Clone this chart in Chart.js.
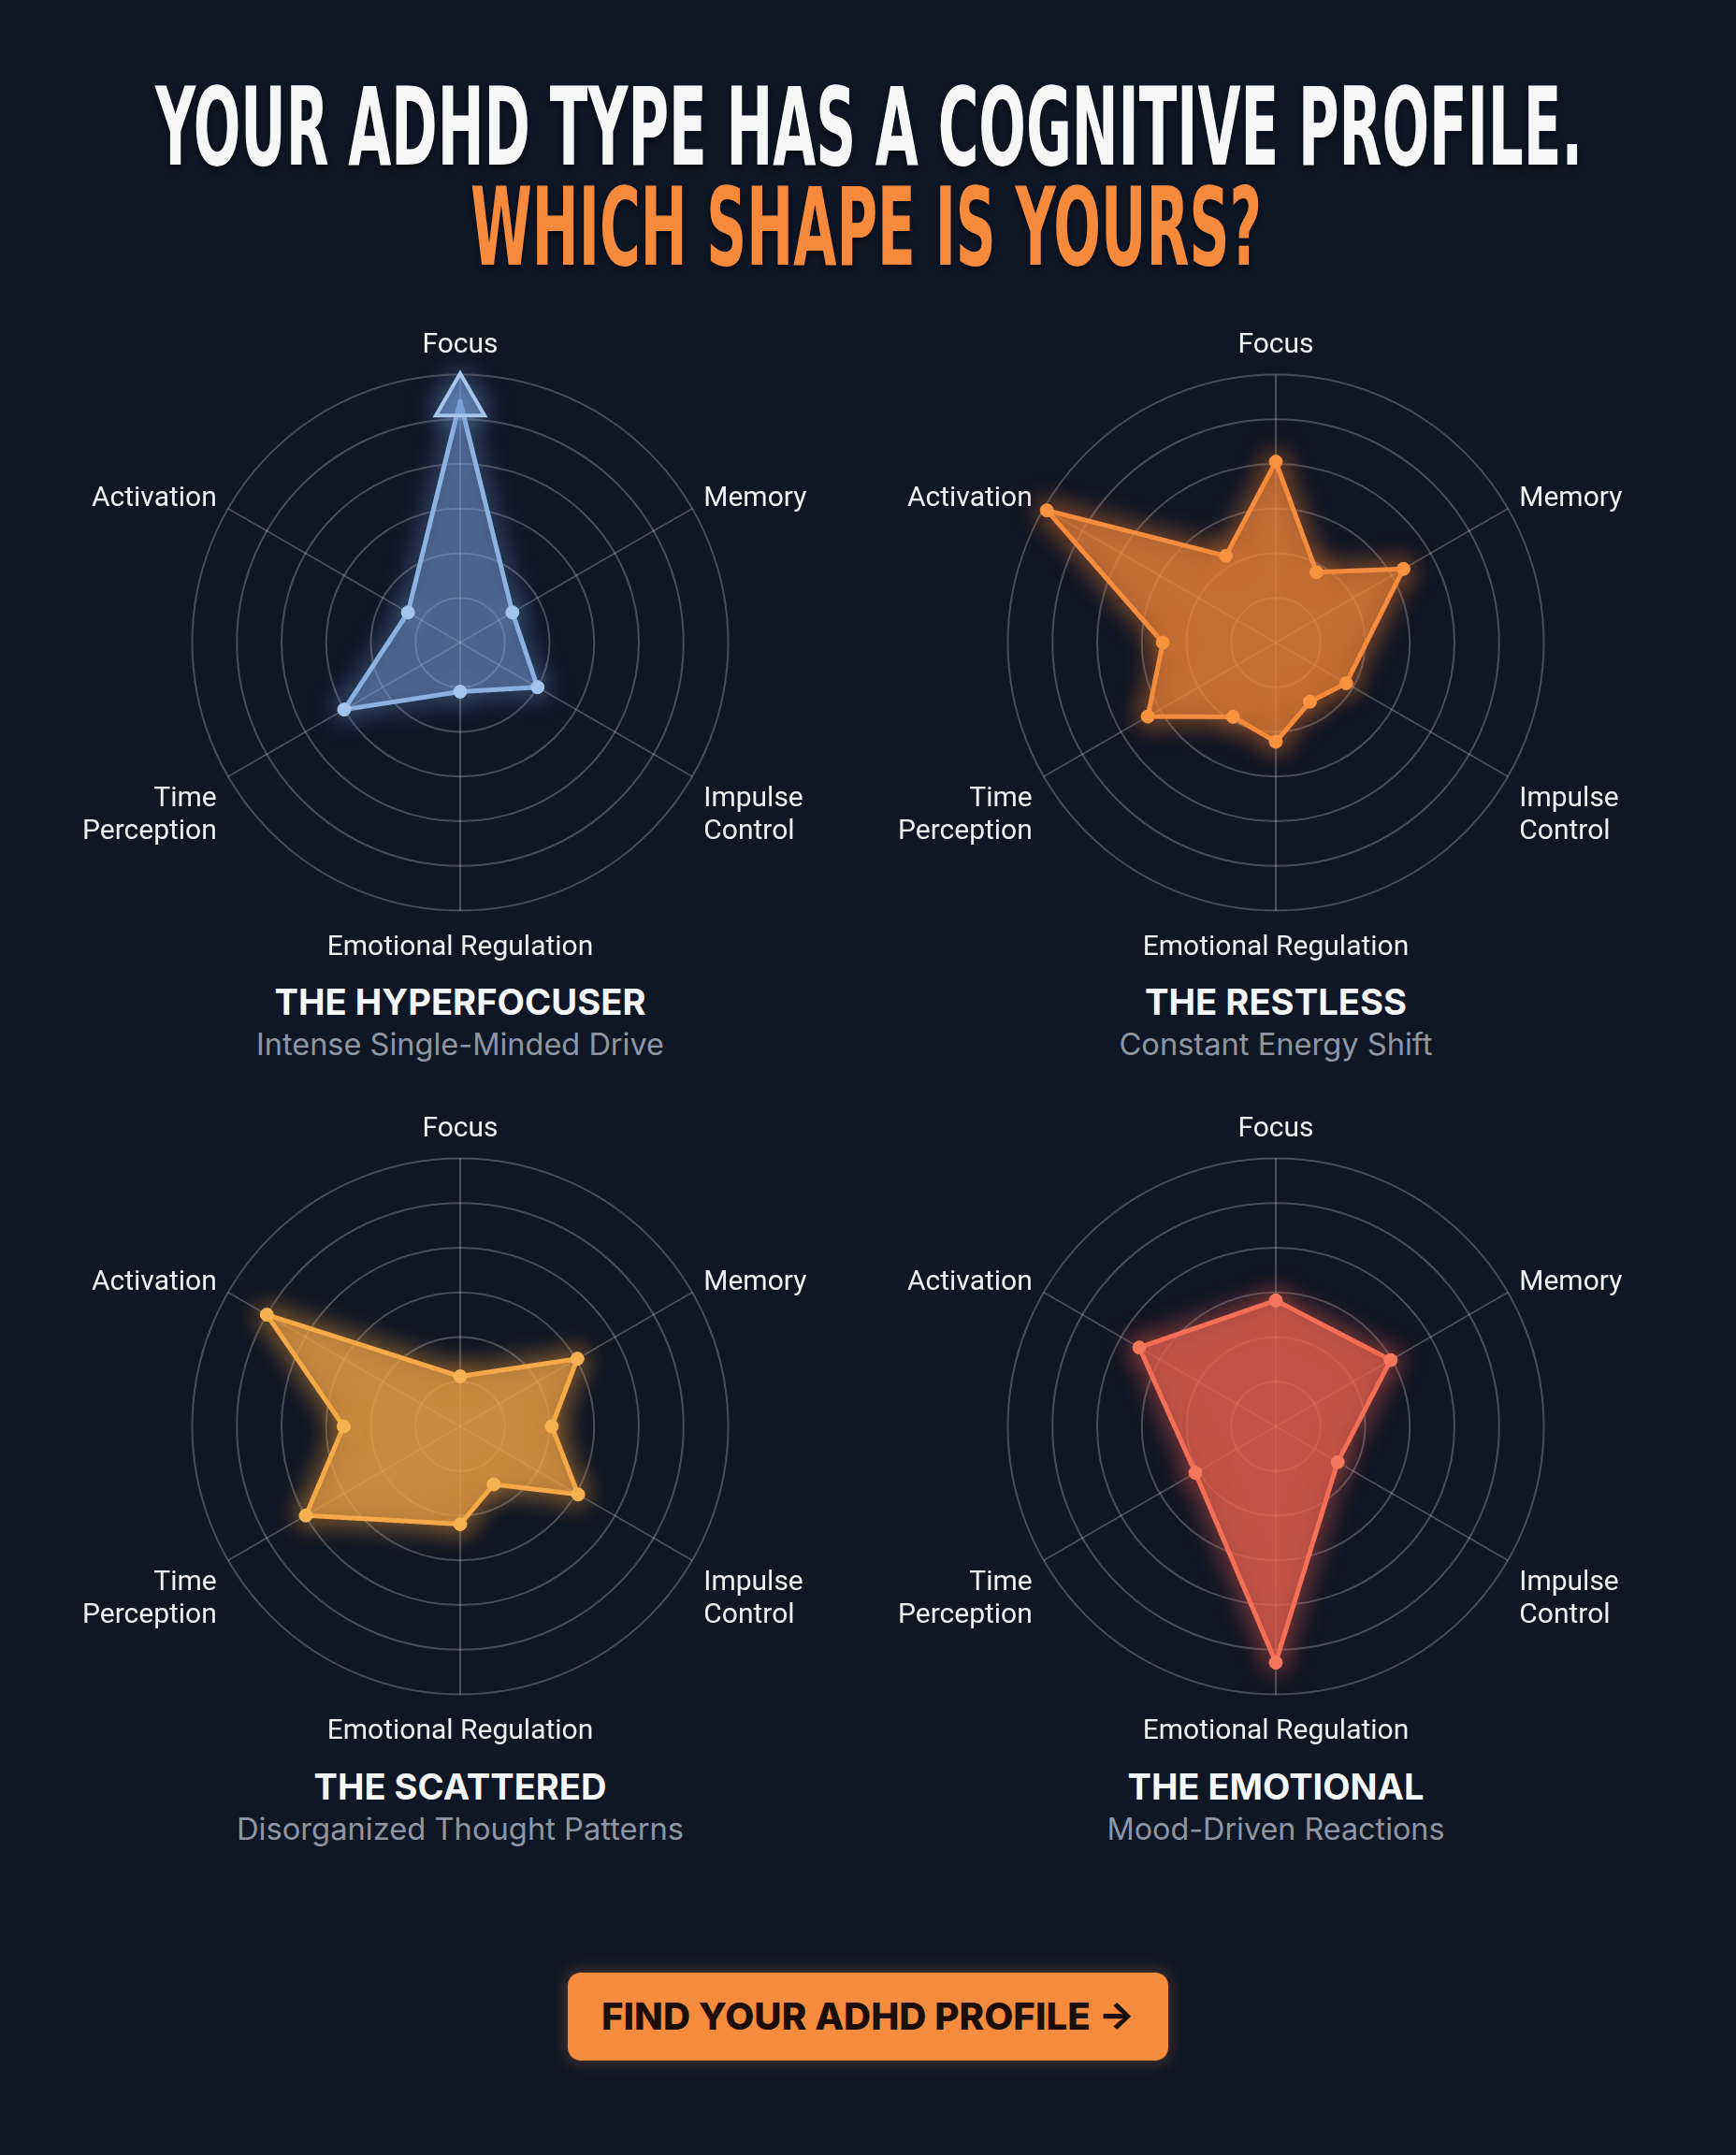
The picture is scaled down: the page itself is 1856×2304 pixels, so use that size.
<!DOCTYPE html>
<html>
<head>
<meta charset="utf-8">
<script src="https://cdn.jsdelivr.net/npm/chart.js@4.4.1/dist/chart.umd.min.js"></script>
<style>
  html, body { margin: 0; padding: 0; }
  body { width: 1856px; height: 2304px; background: #0f1626; position: relative; overflow: hidden; font-family: 'Inter', 'Roboto', sans-serif; }
  .t { position: absolute; white-space: nowrap; line-height: 1; transform-origin: center center; }
  .head { font-family: 'Liberation Sans Narrow', 'DejaVu Sans Condensed', sans-serif; font-weight: bold; font-size: 116px; text-shadow: 0 4px 10px rgba(0,0,0,0.5); }
  .name { font-weight: 700; font-size: 38px; color: #f5f6f8; }
  .desc { font-weight: 400; font-size: 32px; color: #8f96a3; }
  canvas { position: absolute; }
  .btn { position: absolute; left: 607px; top: 2109px; width: 642px; height: 94px; background: #f58b3d; border-radius: 14px; box-shadow: 0 0 18px rgba(245,139,61,0.35); }
  .btn .t { color: #1d0f08; font-weight: 800; font-size: 40px; }
</style>
</head>
<body>
<div class="t head" style="left:929px; top:78px; color:#f6f6f6;" data-w="1526">YOUR ADHD TYPE HAS A COGNITIVE PROFILE.</div>
<div class="t head" style="left:926px; top:185px; color:#f58a3c;" data-w="846">WHICH SHAPE IS YOURS?</div>

<canvas id="hyperChart" width="960" height="688" style="left:12px; top:348px;"></canvas>
<canvas id="restlessChart" width="960" height="688" style="left:884px; top:348px;"></canvas>
<canvas id="scatteredChart" width="960" height="688" style="left:12px; top:1186px;"></canvas>
<canvas id="emotionalChart" width="960" height="688" style="left:884px; top:1186px;"></canvas>

<div class="t name" style="left:492px; top:1052px;" data-w="397">THE HYPERFOCUSER</div>
<div class="t desc" style="left:492px; top:1101px;" data-w="436">Intense Single-Minded Drive</div>
<div class="t name" style="left:1364px; top:1052px;" data-w="280">THE RESTLESS</div>
<div class="t desc" style="left:1364px; top:1101px;" data-w="335">Constant Energy Shift</div>
<div class="t name" style="left:492px; top:1891px;" data-w="313">THE SCATTERED</div>
<div class="t desc" style="left:492px; top:1940px;" data-w="478">Disorganized Thought Patterns</div>
<div class="t name" style="left:1364px; top:1891px;" data-w="317">THE EMOTIONAL</div>
<div class="t desc" style="left:1364px; top:1940px;" data-w="361">Mood-Driven Reactions</div>

<div class="btn"><div class="t" style="left:321px; top:27px;" data-w="570">FIND YOUR ADHD PROFILE →</div></div>

<script>
// 12 spokes: the 6 named axes plus the unnamed in-between positions
const axisLabels = ['Focus', '', 'Memory', '', ['Impulse', 'Control'], '', 'Emotional Regulation', '', ['Time', 'Perception'], '', 'Activation', ''];

// values on a 0-6 scale (6 rings), null = no vertex on that spoke
const hyperfocuserValues = [5.4, null, 1.35, null, 2.0, null, 1.1, null, 3.0, null, 1.35, null];
const restlessValues = [4.05, 1.82, 3.3, null, 1.82, 1.53, 2.22, 1.92, 3.31, 2.53, 5.92, 2.24];
const scatteredValues = [1.12, null, 3.03, 2.05, 3.05, 1.5, 2.19, null, 3.99, 2.61, 5.0, null];
const emotionalValues = [2.82, null, 2.97, null, 1.6, null, 5.29, null, 2.08, null, 3.53, null];

const gridColor = 'rgba(255,255,255,0.24)';

Chart.defaults.font.family = 'Roboto';
Chart.defaults.color = '#eef0f4';

// soft glow behind the shapes
const glowPlugin = {
    id: 'glow',
    beforeDatasetsDraw(chart, args, opts) {
        const ctx = chart.ctx;
        ctx.save();
        ctx.shadowColor = opts.color;
        ctx.shadowBlur = opts.blur;
    },
    afterDatasetsDraw(chart) {
        chart.ctx.restore();
    }
};

const renderRadar = (id, values, style) => {
    const data = {
        labels: axisLabels,
        datasets: [{
            data: values,
            borderColor: style.line,
            backgroundColor: style.fill,
            borderWidth: 5,
            borderJoinStyle: 'round',
            fill: true,
            spanGaps: true,
            pointRadius: style.pointRadius || 7,
            pointStyle: style.pointStyle || 'circle',
            pointBackgroundColor: style.pointFill || style.point,
            pointBorderColor: style.point,
            pointBorderWidth: style.pointBorder || 1
        }]
    };
    const options = {
        responsive: false,
        animation: false,
        plugins: {
            legend: { display: false },
            tooltip: { enabled: false },
            glow: { color: style.glow, blur: 30 }
        },
        scales: {
            r: {
                min: 0,
                max: 6,
                ticks: { display: false, stepSize: 1 },
                grid: { circular: true, color: gridColor, lineWidth: 2 },
                angleLines: { color: gridColor, lineWidth: ctx => ctx.index % 2 ? 0 : 2 },
                pointLabels: {
                    color: '#eef0f4',
                    padding: ctx => ctx.index === 6 ? 23 : 14,
                    // Memory / Activation sit a little lower than the default box
                    font: ctx => ({ family: 'Roboto', size: 30, lineHeight: (ctx.index === 2 || ctx.index === 10) ? 0.2 : 1.15 })
                }
            }
        }
    };
    new Chart(id, { type: 'radar', data, options, plugins: [glowPlugin] });
};

renderRadar('hyperChart', hyperfocuserValues, {
    line: '#8cb2e0', fill: 'rgba(120,160,212,0.38)', point: '#a6c6ec', glow: 'rgba(120,165,225,0.8)',
    pointStyle: hyperfocuserValues.map((v, i) => i === 0 ? 'triangle' : 'circle'),
    pointRadius: hyperfocuserValues.map((v, i) => i === 0 ? 30 : 7),
    pointFill: hyperfocuserValues.map((v, i) => i === 0 ? 'rgba(110,150,205,0.55)' : '#a6c6ec'),
    pointBorder: hyperfocuserValues.map((v, i) => i === 0 ? 4 : 1)
});
renderRadar('restlessChart', restlessValues, {
    line: '#f58d3e', fill: 'rgba(240,135,60,0.58)', point: '#f7933f', glow: 'rgba(245,130,50,0.9)'
});
renderRadar('scatteredChart', scatteredValues, {
    line: '#f5aa48', fill: 'rgba(236,162,72,0.62)', point: '#f7b354', glow: 'rgba(245,160,60,0.9)'
});
renderRadar('emotionalChart', emotionalValues, {
    line: '#f46f58', fill: 'rgba(236,100,80,0.6)', point: '#f5775f', glow: 'rgba(240,95,75,0.9)'
});

// squeeze or stretch each text line to the width it has in the picture
const fitText = () => {
    document.querySelectorAll('[data-w]').forEach(el => {
        el.style.transform = 'none';
        const w = el.getBoundingClientRect().width;
        el.style.transform = `translateX(-50%) scaleX(${el.dataset.w / w})`;
    });
};
fitText();
document.fonts.ready.then(fitText);
</script>
</body>
</html>
